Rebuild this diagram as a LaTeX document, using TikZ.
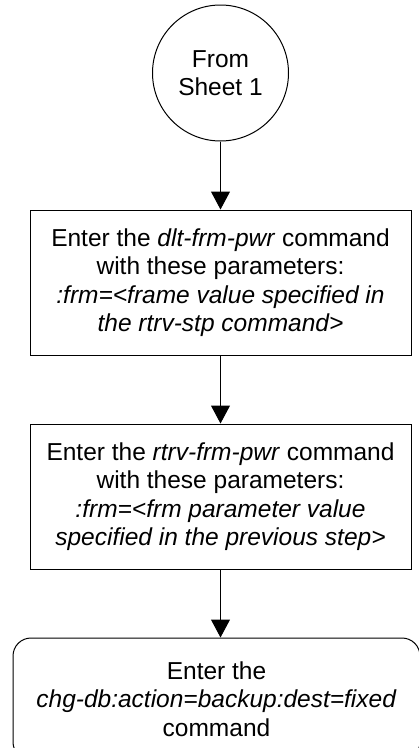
\documentclass[tikz,border=0pt]{standalone}
\usepackage{fontspec}
\setmainfont{Liberation Sans}
\usetikzlibrary{arrows.meta,positioning,shapes.geometric}

\begin{document}
\begin{tikzpicture}[
    x=1pt, y=1pt,
    node distance=68pt,
    every node/.style={font=\fontsize{24.5}{28.5}\selectfont},
    connector/.style={circle, draw, line width=1pt, minimum size=136pt, inner sep=0pt, align=center},
    process/.style={draw, line width=1pt, minimum width=381pt, minimum height=145pt, inner sep=0pt, align=center},
    terminal/.style={draw, line width=1pt, rounded corners=18pt, minimum width=407pt, minimum height=122pt, inner sep=0pt, align=center},
    arrow/.style={-{Triangle[length=18pt,width=19pt]}, line width=1pt}
  ]
    \useasboundingbox (0,0) rectangle (419,-748);
    \node[connector] (sheet) at (220.5,-73) {From\\Sheet 1};
    \node[process, below=of sheet] (dltfrm) {Enter the \textit{dlt-frm-pwr} command\\with these parameters:\\\textit{:frm=<frame value specified in}\\\textit{the rtrv-stp command>}};
    \node[process, below=of dltfrm] (rtrvfrm) {Enter the \textit{rtrv-frm-pwr} command\\with these parameters:\\\textit{:frm=<frm parameter value}\\\textit{specified in the previous step>}};
    \node[terminal, below=of rtrvfrm, xshift=-4pt] (chgdb) {Enter the\\\textit{chg-db:action=backup:dest=fixed}\\command};

    \draw[arrow] (sheet) -- (dltfrm);
    \draw[arrow] (dltfrm) -- (rtrvfrm);
    \draw[arrow] (rtrvfrm) -- (rtrvfrm.south |- chgdb.north);
  \end{tikzpicture}
\end{document}
